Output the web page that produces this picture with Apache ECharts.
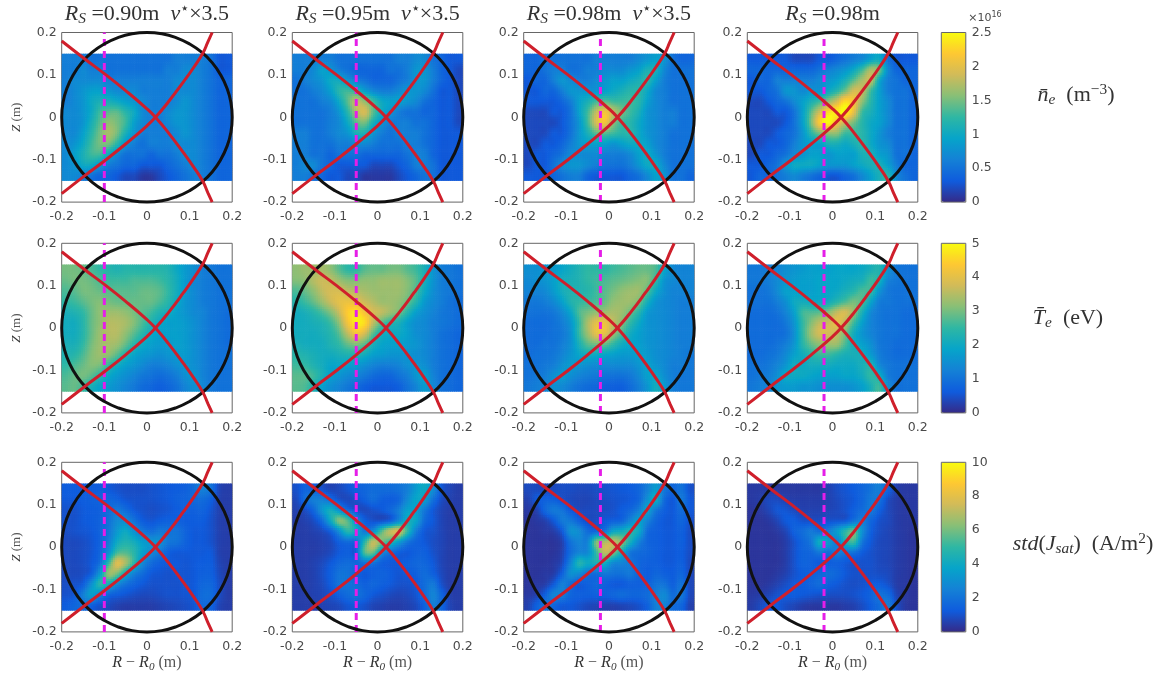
<!DOCTYPE html>
<html><head><meta charset="utf-8">
<style>html,body{margin:0;padding:0;background:#fff}#c{width:1171px;height:673px}</style>
<script src="https://cdn.jsdelivr.net/npm/echarts@6/dist/echarts.min.js"></script>
</head><body><div id="c"></div>
<script>
// Cell centres (m): R-R0 columns and Z rows, top row first. Values are tenths of the axis unit.
const rCentres=[-.19,-.17,-.15,-.13,-.11,-.09,-.07,-.05,-.03,-.01,.01,.03,.05,.07,.09,.11,.13,.15,.17,.19];
const zCentres=[.1375,.1125,.0875,.0625,.0375,.0125,-.0125,-.0375,-.0625,-.0875,-.1125,-.1375];
const ne090=[
[6,6,6,5,5,5,5,5,5,5,5,5,5,6,6,6,6,5,3,3],
[6,6,7,6,6,5,5,5,5,5,5,5,6,6,7,7,6,5,3,3],
[6,7,7,7,7,6,6,6,6,6,6,6,6,7,7,7,6,5,4,4],
[6,7,8,9,9,8,7,7,7,6,6,6,6,7,7,7,6,5,4,4],
[6,7,8,10,11,11,10,9,8,7,6,6,6,7,8,7,6,5,4,4],
[7,7,8,10,13,14,14,12,10,7,6,6,7,8,8,7,6,5,4,4],
[7,7,8,11,14,16,15,13,9,7,6,6,7,8,8,7,6,5,4,4],
[7,7,9,12,15,17,15,11,8,6,6,6,6,7,8,7,6,5,4,4],
[7,8,10,13,15,15,12,8,6,5,6,6,6,7,7,7,6,5,4,4],
[7,9,11,13,13,10,7,5,5,5,4,5,5,6,7,7,6,5,4,4],
[7,8,10,10,8,6,5,4,4,3,3,3,4,5,6,7,6,5,4,4],
[7,7,6,5,4,4,3,2,2,1,1,2,3,4,5,6,6,5,4,4]];
const ne095=[
[6,6,6,6,6,5,5,5,5,5,5,5,6,6,7,7,5,4,3,3],
[6,6,7,9,8,6,5,4,4,4,4,5,5,6,8,8,6,4,3,2],
[5,6,7,8,10,10,8,6,5,4,4,4,5,6,8,8,6,4,3,2],
[5,5,6,7,9,12,13,12,9,7,6,6,7,8,8,7,5,3,3,2],
[5,5,5,6,7,10,14,18,16,13,10,9,9,8,7,5,4,3,3,2],
[5,5,5,5,6,8,12,17,19,14,10,8,6,5,5,4,4,3,3,2],
[5,5,5,5,6,7,10,14,15,11,8,6,6,6,5,5,4,3,3,2],
[6,6,5,5,6,7,8,11,11,8,6,5,6,6,6,5,4,3,3,3],
[6,6,5,5,5,6,6,7,7,6,5,5,5,6,6,5,4,3,3,3],
[6,6,5,5,4,5,5,5,4,4,4,4,4,5,6,6,4,3,3,3],
[6,7,7,5,4,3,3,3,3,2,2,2,3,4,6,6,5,3,3,3],
[6,6,5,4,3,3,2,2,1,1,1,1,2,3,4,5,5,3,3,3]];
const ne098nu=[
[4,4,5,5,5,5,5,5,6,6,6,6,6,7,8,9,8,5,4,4],
[4,4,5,6,6,5,5,6,6,7,7,7,8,9,11,11,7,5,5,5],
[3,4,4,6,8,7,6,6,7,8,9,9,10,11,12,9,6,5,5,5],
[3,3,4,4,6,8,8,8,8,9,10,11,12,12,10,7,6,5,5,5],
[3,3,3,3,4,6,9,11,13,14,13,13,13,12,9,7,6,5,5,5],
[2,2,2,3,3,5,9,13,18,21,18,15,13,11,8,7,6,6,5,5],
[2,2,2,2,3,5,8,13,19,21,16,13,12,10,8,7,6,6,5,5],
[2,2,2,3,3,5,8,11,14,14,13,12,12,10,8,7,6,5,5,5],
[2,2,3,3,4,6,8,9,9,9,8,9,10,10,9,7,6,5,5,5],
[2,3,3,4,5,7,7,7,7,6,6,6,7,9,10,8,6,5,5,5],
[2,3,3,5,7,8,8,7,6,5,5,5,6,8,10,10,7,5,5,5],
[3,3,3,4,5,6,6,4,3,3,3,3,4,5,7,9,8,5,5,4]];
const ne098=[
[3,3,3,3,3,2,2,2,3,3,4,5,6,7,9,10,5,3,3,3],
[4,4,4,4,4,4,4,4,5,6,7,8,10,13,17,15,7,4,4,4],
[3,4,4,6,6,6,6,6,7,8,9,11,14,17,18,10,6,5,4,4],
[3,3,4,5,8,8,7,8,8,10,12,15,19,18,13,9,6,5,5,4],
[2,2,3,4,5,7,9,11,13,16,19,23,21,16,12,9,7,5,5,4],
[2,2,2,3,3,5,9,14,19,23,24,25,20,13,11,9,7,5,5,4],
[2,2,2,2,3,5,9,15,22,25,21,18,15,12,10,9,7,5,5,4],
[2,2,2,3,4,5,8,12,15,16,16,13,13,12,10,8,6,5,5,4],
[2,2,3,3,4,6,8,9,9,11,11,10,11,12,10,8,7,5,5,4],
[2,3,3,4,5,7,8,9,9,8,9,9,9,11,11,9,8,5,5,4],
[3,3,4,5,8,10,10,10,9,8,8,8,9,10,11,11,9,6,4,4],
[3,4,4,5,6,7,6,5,4,3,3,4,5,7,9,11,12,7,5,4]];
const te090=[
[30,30,29,27,25,24,23,24,24,24,24,24,23,20,17,15,12,11,10,10],
[29,30,30,29,27,26,26,26,27,27,27,26,24,21,17,14,12,11,10,10],
[27,28,30,30,29,28,28,28,28,29,29,28,25,21,17,14,12,11,10,10],
[25,26,28,30,31,30,29,29,29,29,29,27,24,20,16,14,12,11,10,10],
[22,23,25,29,32,33,33,32,30,28,26,23,21,18,16,14,13,11,10,9],
[21,21,24,29,32,35,35,34,31,27,23,20,18,18,17,15,13,11,10,9],
[21,21,24,29,33,35,35,32,28,24,20,18,18,18,17,15,13,11,10,9],
[22,22,25,30,33,34,33,29,24,20,18,17,17,18,17,15,13,11,10,9],
[23,24,27,31,33,32,28,23,19,17,16,15,16,17,17,15,13,11,10,10],
[25,27,29,31,30,25,21,18,16,14,12,12,13,15,16,15,13,11,10,10],
[27,29,30,28,24,20,17,15,13,11,10,9,10,12,15,16,13,11,10,10],
[28,29,26,22,19,17,15,13,11,9,8,7,8,10,13,15,14,11,10,10]];
const te095=[
[32,33,33,34,32,28,25,25,28,29,29,30,30,28,26,22,16,12,11,10],
[31,32,35,37,36,33,31,31,32,32,33,33,33,31,28,22,16,12,11,10],
[27,29,32,36,38,38,36,35,34,33,33,33,33,31,27,20,15,12,11,10],
[24,26,29,33,37,40,41,40,37,35,33,33,32,29,24,17,14,12,10,9],
[21,22,24,27,31,37,44,47,42,38,36,33,30,24,18,15,13,11,10,9],
[21,21,22,23,26,32,42,48,46,36,28,24,22,18,15,14,12,11,10,9],
[21,21,21,22,24,28,36,42,38,28,22,20,20,18,15,14,12,10,9,8],
[22,21,21,21,23,25,29,31,28,22,19,18,18,17,16,14,12,10,9,8],
[24,23,22,21,21,22,23,23,21,18,17,16,16,16,15,14,12,10,9,8],
[26,25,23,21,19,19,18,17,15,13,12,12,13,15,16,15,12,10,9,8],
[28,28,26,22,18,16,14,13,11,9,8,8,10,12,16,18,13,10,9,8],
[28,27,23,18,15,13,11,9,7,6,6,6,7,10,13,17,14,10,9,8]];
const te098nu=[
[15,15,16,17,19,21,23,25,25,25,26,27,28,29,29,27,19,14,13,13],
[14,15,16,18,21,22,23,25,26,27,28,29,30,31,31,25,16,14,13,13],
[13,13,14,17,21,23,23,24,26,28,30,32,33,33,28,20,15,13,13,13],
[11,11,12,14,18,23,25,26,27,29,32,33,33,30,22,16,14,13,12,12],
[10,10,10,11,14,19,27,30,32,33,34,33,29,24,17,15,14,13,12,12],
[9,9,9,10,12,16,25,34,40,41,36,31,25,20,16,15,14,13,12,12],
[9,9,9,10,11,15,25,33,40,40,33,27,21,18,16,15,14,13,12,12],
[9,9,10,10,12,15,22,28,30,29,25,21,19,18,16,15,14,13,12,12],
[9,10,10,11,13,16,19,21,20,19,18,17,17,18,17,15,14,13,12,11],
[10,10,11,12,15,17,16,15,14,14,14,14,14,16,18,16,14,12,12,11],
[10,11,12,15,17,15,13,12,11,10,10,10,11,14,18,19,15,12,11,11],
[11,12,13,15,14,12,10,9,8,7,7,7,9,12,16,21,17,12,11,11]];
const te098=[
[11,11,12,13,15,16,17,18,18,18,19,19,19,20,22,23,16,11,10,10],
[11,11,12,14,16,17,18,18,19,19,19,20,21,22,26,22,13,11,10,10],
[10,10,11,14,18,18,18,18,19,19,20,22,24,27,25,16,11,10,10,10],
[10,10,10,12,15,20,21,20,20,21,24,27,30,27,19,12,11,10,10,10],
[9,9,9,10,13,18,26,27,28,31,36,38,32,22,14,11,10,10,9,9],
[9,9,9,9,11,16,25,31,36,37,40,35,26,18,13,11,10,10,9,9],
[9,9,9,9,10,15,25,33,38,38,36,30,21,16,13,11,10,10,9,9],
[9,9,9,10,12,16,24,29,32,33,33,27,21,18,15,11,10,9,9,9],
[9,9,10,11,14,18,21,24,26,26,24,22,22,21,17,12,10,9,9,9],
[10,10,11,13,16,21,20,21,21,21,20,20,20,22,23,14,11,10,10,10],
[10,11,12,15,20,20,20,19,18,18,18,19,19,21,25,21,12,10,10,10],
[11,12,13,16,17,17,16,16,15,15,15,15,16,18,22,26,15,10,10,10]];
const js090=[
[13,13,13,13,13,12,10,9,9,9,10,11,12,13,14,18,25,20,7,5],
[12,12,13,14,15,16,14,11,10,10,10,11,12,14,15,17,18,14,6,5],
[10,10,12,13,14,18,22,18,12,10,9,10,11,13,14,14,15,11,6,5],
[10,10,12,13,15,20,28,28,20,13,11,13,14,14,13,13,13,10,6,5],
[9,10,11,12,15,21,33,40,30,22,18,22,20,20,15,12,12,10,6,5],
[8,8,9,11,15,24,40,46,42,35,32,30,22,20,15,12,12,10,6,5],
[8,8,9,11,16,30,52,55,48,36,28,22,14,12,12,12,12,12,6,5],
[8,8,9,12,20,50,78,68,48,28,18,14,12,12,11,12,13,13,7,5],
[8,8,9,14,34,65,60,40,25,18,12,11,10,11,11,12,14,14,8,5],
[9,10,13,30,48,42,28,20,15,12,10,10,10,10,11,12,16,16,9,5],
[10,12,24,35,25,16,13,11,9,8,8,9,10,10,11,12,18,18,9,5],
[13,16,18,14,10,8,6,5,5,5,5,6,7,8,9,11,17,15,7,5]];
const js095=[
[10,15,14,10,7,8,11,14,16,18,18,18,20,24,34,40,30,12,7,5],
[8,18,24,24,18,10,8,10,14,18,14,13,16,28,38,36,20,9,6,5],
[6,9,16,32,42,30,18,10,8,10,12,16,24,36,36,22,12,7,5,5],
[5,6,9,18,40,62,55,30,14,10,10,14,28,42,38,18,12,7,5,5],
[5,5,6,8,14,30,48,40,22,30,55,72,75,50,24,12,10,7,5,5],
[5,5,5,6,8,14,18,18,48,72,60,48,36,22,15,12,9,7,5,5],
[5,5,5,6,8,12,14,14,55,58,30,20,14,12,14,14,10,7,5,5],
[5,5,6,8,12,16,18,16,20,20,14,12,12,14,16,16,12,7,5,5],
[5,5,6,9,14,20,20,15,12,14,15,13,11,12,14,18,14,8,5,5],
[5,5,6,8,13,20,20,18,14,16,14,12,10,10,12,18,22,10,5,5],
[5,5,6,7,10,14,18,20,16,12,10,8,7,8,11,18,26,16,6,5],
[5,5,5,6,7,8,11,12,10,7,6,5,5,6,8,14,24,16,7,5]];
const js098nu=[
[8,8,7,8,9,9,8,8,9,10,11,12,13,16,24,34,22,16,20,10],
[6,12,14,14,10,8,7,7,8,9,10,11,12,16,30,42,18,12,22,12],
[4,6,16,22,20,12,8,8,8,9,10,13,16,24,36,22,14,12,18,12],
[3,4,6,12,22,22,14,9,9,12,14,16,26,36,26,16,12,12,16,10],
[3,3,4,5,12,30,28,18,16,22,38,42,46,40,18,14,12,12,14,9],
[3,3,3,3,6,20,26,26,60,68,72,62,44,26,16,14,12,12,14,9],
[3,3,3,3,6,18,26,28,50,72,62,42,22,18,16,14,12,12,13,9],
[3,3,3,4,8,26,46,40,44,42,28,26,22,16,14,14,12,12,14,8],
[3,3,4,5,14,30,28,20,18,22,20,20,22,16,13,16,14,13,16,8],
[3,4,5,12,24,18,12,14,16,14,12,12,14,14,14,20,20,14,20,8],
[4,6,14,26,24,16,14,14,14,14,16,18,16,16,18,24,28,18,22,8],
[6,14,20,16,12,12,10,8,7,6,6,7,8,10,14,24,26,18,16,6]];
const js098=[
[4,4,4,4,4,4,4,4,4,6,9,11,13,16,20,24,16,6,4,4],
[4,5,8,8,6,5,5,5,5,6,8,10,12,16,22,20,9,5,4,4],
[3,4,7,11,11,8,6,6,6,7,8,10,14,18,22,14,8,5,4,4],
[3,3,4,7,12,13,10,9,9,10,11,12,20,24,16,10,8,5,4,4],
[3,3,3,4,7,14,18,22,18,24,34,48,58,30,14,9,7,5,4,3],
[3,3,3,3,5,10,16,22,42,36,24,44,52,22,12,8,7,5,4,3],
[3,3,3,3,5,10,15,16,22,18,24,22,20,13,10,8,7,5,4,3],
[3,3,3,3,5,10,15,14,12,13,14,12,10,10,10,8,7,5,4,3],
[3,3,3,4,6,10,13,14,16,18,16,12,10,10,10,9,8,5,4,3],
[3,3,4,6,9,12,13,15,18,14,12,10,9,10,12,13,10,5,4,3],
[4,5,7,10,12,13,12,11,10,9,9,9,10,12,15,20,18,7,4,3],
[5,8,12,12,9,7,5,4,4,4,4,5,6,9,13,18,24,10,4,3]];
const probeR=[-.1,-.05,-.02,-.02];
const separatrixUp=[[-.2,-.18],[-.145,-.137],[-.1,-.103],[-.05,-.063],[0,-.02],[.02,0],[.05,.036],[.086,.084],[.11,.118],[.131,.151],[.143,.178],[.153,.2]];
const separatrixDown=[[-.2,.18],[-.145,.137],[-.1,.103],[-.05,.063],[0,.02],[.02,0],[.05,-.036],[.086,-.084],[.11,-.118],[.131,-.151],[.143,-.178],[.153,-.2]];
const vesselQuarter=[[.2,0],[.197,.035],[.188,.068],[.173,.1],[.153,.129],[.129,.153],[.1,.173],[.068,.188],[.035,.197],[0,.2]];
const colTitles=['{i|R}{sub|S} =0.90m  {i|ν}{sup|⋆}×3.5','{i|R}{sub|S} =0.95m  {i|ν}{sup|⋆}×3.5','{i|R}{sub|S} =0.98m  {i|ν}{sup|⋆}×3.5','{i|R}{sub|S} =0.98m'];
const parula=['#352a87','#0f5cdd','#1481d6','#06a4ca','#2eb7a4','#87bf77','#d1bb59','#fec832','#f9fb0e'];

const table=[[ne090,ne095,ne098nu,ne098],[te090,te095,te098nu,te098],[js090,js095,js098nu,js098]];
const colLeft=[61.7,292.3,523.7,747.3], rowTop=[32.5,243.3,462.3], W=170.5, H=169.6;
const rangeMax=[2.5,5,10], cbInt=[.5,1,2];
const labelFont='"DejaVu Sans",sans-serif', serif='"Liberation Serif",serif', grey='#4a4a4a';
const vessel=[];
[[1,1],[-1,1],[-1,-1],[1,-1]].forEach(([a,b],q)=>{
  const pts=q%2?vesselQuarter.slice().reverse():vesselQuarter;
  pts.forEach(p=>vessel.push([a*p[0],b*p[1]]));
});
const grids=[],xAxis=[],yAxis=[],series=[],heat=[[],[],[]],graphic=[];
function tick(v){return v===0?'0':String(Math.round(v*10)/10);}
function rich(size){return {
  i:{fontFamily:serif,fontStyle:'italic',fontSize:size,fill:'#333'},
  sub:{fontFamily:serif,fontStyle:'italic',fontSize:size*.7,padding:[size*.45,0,0,0],verticalAlign:'bottom',fill:'#333'},
  sup:{fontFamily:serif,fontSize:size*.7,padding:[0,0,size*.4,0],verticalAlign:'top',fill:'#333'}
};}
function txt(x,y,text,size,extra){graphic.push({type:'text',x,y,silent:true,style:Object.assign({text,fontFamily:serif,fontSize:size,fill:'#333',textAlign:'center',textVerticalAlign:'middle',rich:rich(size)},extra||{})});}
// Shaded like the original's interpolated pcolor: each read cell is painted with a smooth blend of its neighbours.
function cr(a,b,c,d,t){return b+.5*t*(c-a+t*(2*a-5*b+4*c-d+t*(3*(b-c)+d-a)));}
function sampler(vals){
  const R=vals.length,C=vals[0].length,at=(k,j)=>vals[Math.max(0,Math.min(R-1,k))][Math.max(0,Math.min(C-1,j))];
  return (k,j)=>{
    const k0=Math.floor(k),j0=Math.floor(j),tk=k-k0,tj=j-j0,col=[];
    for(let m=-1;m<3;m++)col.push(cr(at(k0+m,j0-1),at(k0+m,j0),at(k0+m,j0+1),at(k0+m,j0+2),tj));
    return cr(col[0],col[1],col[2],col[3],tk);
  };
}
const SUBX=4,SUBY=5;
function shade(sample,top){
  return (params,api)=>{
    const i=params.dataIndex,j=i%20,k=Math.floor(i/20);
    const p0=api.coord([api.value(0)-.01,api.value(1)+.0125]),p1=api.coord([api.value(0)+.01,api.value(1)-.0125]);
    const dx=(p1[0]-p0[0])/SUBX,dy=(p1[1]-p0[1])/SUBY,children=[];
    for(let a=0;a<SUBX;a++)for(let b=0;b<SUBY;b++){
      const t=Math.max(0,Math.min(1,sample(k+(b+.5)/SUBY-.5,j+(a+.5)/SUBX-.5)/top));
      children.push({type:'rect',silent:true,shape:{x:p0[0]+a*dx,y:p0[1]+b*dy,
        width:dx+(a<SUBX-1||j<19?.7:0),height:dy+(b<SUBY-1||k<11?.7:0)},
        style:{fill:echarts.color.lerp(t,parula)}});
    }
    return {type:'group',silent:true,children};
  };
}
table.forEach((row,r)=>row.forEach((vals,c)=>{
  const g=grids.length, xi=xAxis.length, yi=yAxis.length;
  grids.push({left:colLeft[c],top:rowTop[r],width:W,height:H,show:true,borderColor:'#666',borderWidth:1,backgroundColor:'#fff'});
  const axisCommon={min:-.2,max:.2,interval:.1,splitLine:{show:false},
    axisLine:{show:false},axisTick:{show:true,inside:true,length:2.5,lineStyle:{color:'#666',width:1}}};
  xAxis.push(Object.assign({type:'value',gridIndex:g,position:'bottom',
    axisLabel:{formatter:tick,fontFamily:labelFont,fontSize:12.5,color:grey,margin:8,hideOverlap:false}},axisCommon));
  yAxis.push(Object.assign({type:'value',gridIndex:g,position:'left',
    axisLabel:{formatter:tick,fontFamily:labelFont,fontSize:12.5,color:grey,margin:5,hideOverlap:false}},axisCommon));
  const d=[];
  vals.forEach((line,k)=>line.forEach((v,j)=>d.push([rCentres[j],zCentres[k],v/10])));
  heat[r].push(series.length);
  series.push({type:'custom',xAxisIndex:xi,yAxisIndex:yi,data:d,silent:true,z:1,
    encode:{x:0,y:1},renderItem:shade(sampler(vals),rangeMax[r]*10)});
  const ln=(data,color,w,extra)=>Object.assign({type:'line',xAxisIndex:xi,yAxisIndex:yi,data,showSymbol:false,symbol:'none',silent:true,
    clip:false,lineStyle:{color,width:w},z:2},extra||{});
  series.push(ln([[probeR[c],-.2],[probeR[c],.2]],'#e51ee8',3,{lineStyle:{color:'#e51ee8',width:3,type:[7,5]}}));
  series.push(ln(vessel,'#111',3,{smooth:true,z:3}));
  series.push(ln(separatrixUp,'#cf1f2b',3,{smooth:true,z:4}));
  series.push(ln(separatrixDown,'#cf1f2b',3,{smooth:true,z:4}));
  if(r===0) txt(colLeft[c]+W/2,14,colTitles[c],22);
  if(c===0) txt(17,rowTop[r]+H/2,'{i|Z} (m)',13,{fill:'#555'}), graphic[graphic.length-1].rotation=Math.PI/2;
  if(r===2) txt(colLeft[c]+W/2,663,'{i|R} − {i|R}{sub|0} (m)',16,{fill:'#555'});
}));
// colour bars
const cbLeft=941.3,cbW=24.5;
const visualMap=[];
rowTop.forEach((top,r)=>{
  visualMap.push({type:'continuous',min:0,max:rangeMax[r],dimension:2,seriesIndex:heat[r],inRange:{color:parula},
    show:true,calculable:false,text:null,showLabel:false,left:cbLeft,top:top,itemWidth:cbW,itemHeight:H,padding:0,
    orient:'vertical',hoverLink:false,realtime:false,textStyle:{fontSize:0},borderWidth:0,z:1});
  const g=grids.length;
  grids.push({left:cbLeft,top,width:cbW,height:H,show:true,borderColor:'#666',borderWidth:1,backgroundColor:'transparent',z:6});
  xAxis.push({type:'value',gridIndex:g,show:false,min:0,max:1});
  yAxis.push({type:'value',gridIndex:g,position:'right',min:0,max:rangeMax[r],interval:cbInt[r],splitLine:{show:false},z:6,
    axisLine:{show:false},axisTick:{show:false},
    axisLabel:{fontFamily:labelFont,fontSize:12.5,color:grey,margin:6,formatter:v=>String(Math.round(v*10)/10)}});
});
txt(985,18,'×10{sup|16}',11,{fontFamily:labelFont,fill:grey,rich:{sup:{fontFamily:labelFont,fontSize:8,padding:[0,0,7,0],verticalAlign:'top',fill:grey}}});
txt(1076,95,'{i|n̄}{sub|e}  (m{sup|−3})',22);
txt(1068,318,'{i|T̄}{sub|e}  (eV)',22);
txt(1083,544,'{i|std}({i|J}{sub|sat})  (A/m{sup|2})',22);
echarts.init(document.getElementById('c')).setOption({animation:false,backgroundColor:'#fff',
  grid:grids,xAxis,yAxis,visualMap,series,graphic:{elements:graphic}});
</script></body></html>
